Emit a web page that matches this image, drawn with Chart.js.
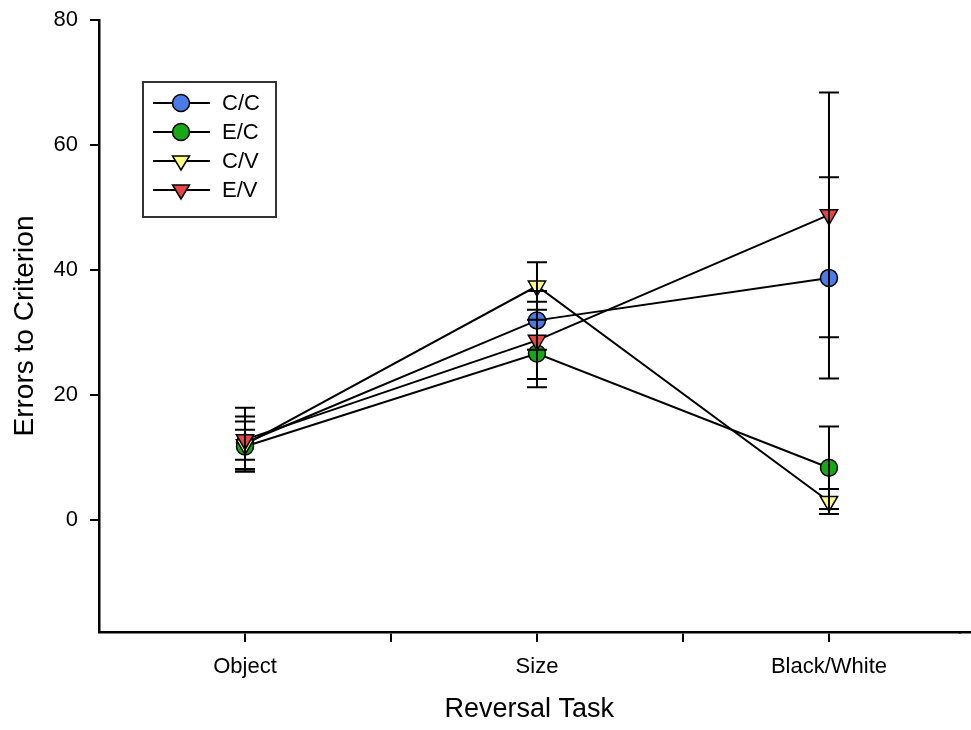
<!DOCTYPE html>
<html>
<head>
<meta charset="utf-8">
<script src="https://cdn.jsdelivr.net/npm/chart.js@4.4.1/dist/chart.umd.min.js"></script>
<style>
  body { margin: 0; background: #fff; }
  canvas { display: block; }
</style>
</head>
<body>
<canvas id="myChart" width="971" height="730"></canvas>
<script>
// reversal task data (mean +/- error)
let categories = ['Object', 'Size', 'Black/White']
let groups = ['C/C', 'E/C', 'C/V', 'E/V']

let ccMean = [12.3, 31.9, 38.7]
let ccErr = [4.2, 4.7, 16.1]
let ecMean = [11.7, 26.6, 8.3]
let ecErr = [4.0, 5.4, 6.6]
let cvMean = [12.0, 37.4, 2.9]
let cvErr = [2.4, 3.8, 2.0]
let evMean = [12.8, 28.7, 48.8]
let evErr = [5.1, 6.2, 19.6]

let yTicks = [0, 20, 40, 60, 80]

let means = [ccMean, ecMean, cvMean, evMean]
let errs = [ccErr, ecErr, cvErr, evErr]
let fills = ['#4a7be6', '#16a816', '#ffff80', '#e84646']
let shapes = ['circle', 'circle', 'triangle', 'triangle']

const FONT = '"Liberation Sans", Arial, sans-serif'

function toPoints(arr) {
  return arr.map((v, i) => ({ x: i, y: v }))
}

function marker(ctx, shape, x, y, fill) {
  ctx.save()
  ctx.fillStyle = fill
  ctx.strokeStyle = '#000'
  ctx.lineWidth = 1.5
  ctx.beginPath()
  if (shape == 'circle') {
    ctx.arc(x, y, 8.5, 0, Math.PI * 2)
  } else {
    // downward triangle
    ctx.moveTo(x - 8.5, y - 5)
    ctx.lineTo(x + 8.5, y - 5)
    ctx.lineTo(x, y + 9)
    ctx.closePath()
  }
  ctx.fill()
  ctx.stroke()
  ctx.restore()
}

const errorBars = {
  id: 'errorBars',
  afterDatasetsDraw(chart) {
    const ctx = chart.ctx
    const xs = chart.scales.x
    const ys = chart.scales.y
    ctx.save()
    ctx.strokeStyle = '#000'
    ctx.lineWidth = 2
    for (let d = 0; d < means.length; d++) {
      for (let i = 0; i < means[d].length; i++) {
        let px = xs.getPixelForValue(i)
        let top = ys.getPixelForValue(means[d][i] + errs[d][i])
        let bot = ys.getPixelForValue(means[d][i] - errs[d][i])
        ctx.beginPath()
        ctx.moveTo(px, top); ctx.lineTo(px, bot)
        ctx.moveTo(px - 10, top); ctx.lineTo(px + 10, top)
        ctx.moveTo(px - 10, bot); ctx.lineTo(px + 10, bot)
        ctx.stroke()
      }
    }
    ctx.restore()
  }
}

// x axis in the original runs on to the right edge of the picture
const axisTail = {
  id: 'axisTail',
  afterDraw(chart) {
    const ctx = chart.ctx
    const a = chart.chartArea
    let y = Math.round(a.bottom - 1.25) + 1.25
    ctx.save()
    ctx.strokeStyle = '#000'
    ctx.lineWidth = 2.5
    ctx.beginPath()
    ctx.moveTo(a.right - 1, y)
    ctx.lineTo(chart.width, y)
    ctx.stroke()
    ctx.restore()
  }
}

const boxLegend = {
  id: 'boxLegend',
  afterDraw(chart) {
    const ctx = chart.ctx
    ctx.save()
    ctx.strokeStyle = '#333'
    ctx.lineWidth = 2
    ctx.strokeRect(143, 82, 133, 135)
    let rows = [103, 132, 161, 190]
    ctx.font = '22px ' + FONT
    ctx.textBaseline = 'middle'
    for (let i = 0; i < groups.length; i++) {
      ctx.beginPath()
      ctx.strokeStyle = '#000'
      ctx.lineWidth = 2
      ctx.moveTo(153, rows[i]); ctx.lineTo(210, rows[i])
      ctx.stroke()
      marker(ctx, shapes[i], 181, rows[i], fills[i])
      ctx.fillStyle = '#000'
      ctx.fillText(groups[i], 222, rows[i] + 1)
    }
    ctx.restore()
  }
}

let datasets = groups.map((g, d) => ({
  label: g,
  data: toPoints(means[d]),
  order: groups.length - d,
  borderColor: '#000',
  borderWidth: 2,
  pointStyle: shapes[d],
  pointRotation: shapes[d] == 'triangle' ? 180 : 0,
  pointRadius: shapes[d] == 'triangle' ? 10 : 8.5,
  pointBackgroundColor: fills[d],
  pointBorderColor: '#000',
  pointBorderWidth: 1.5,
  tension: 0
}))

new Chart(document.getElementById('myChart'), {
  type: 'line',
  data: { datasets: datasets },
  options: {
    responsive: false,
    animation: false,
    layout: { padding: { top: 20, right: 0, left: 0, bottom: 0 } },
    plugins: {
      legend: { display: false },
      tooltip: { enabled: false }
    },
    scales: {
      x: {
        type: 'linear',
        min: -0.5,
        max: 2.447,
        afterBuildTicks: (s) => { s.ticks = [0, 0.5, 1, 1.5, 2].map(v => ({ value: v })) },
        afterFit: (s) => { s.height = 98; s.paddingLeft = 0; s.paddingRight = 0 },
        ticks: {
          autoSkip: false,
          maxRotation: 0,
          padding: 12,
          color: '#000',
          font: { family: FONT, size: 22 },
          callback: (v) => Number.isInteger(v) ? categories[v] : ''
        },
        grid: { drawOnChartArea: false, tickLength: 10, color: '#000', lineWidth: 2 },
        border: { color: '#000', width: 2.5 },
        title: {
          display: true,
          text: 'Reversal Task',
          color: '#000',
          font: { family: FONT, size: 27 },
          padding: { top: 0, bottom: 4 }
        }
      },
      y: {
        min: -18,
        max: 80,
        afterBuildTicks: (s) => { s.ticks = yTicks.map(v => ({ value: v })) },
        afterFit: (s) => { s.width = 99; s.paddingTop = 0; s.paddingBottom = 0 },
        ticks: {
          padding: 12,
          color: '#000',
          font: { family: FONT, size: 22 }
        },
        grid: { drawOnChartArea: false, tickLength: 9, color: '#000', lineWidth: 2 },
        border: { color: '#000', width: 2.5 },
        title: {
          display: true,
          text: 'Errors to Criterion',
          color: '#000',
          font: { family: FONT, size: 28 },
          padding: { top: 8, bottom: 0 }
        }
      }
    }
  },
  plugins: [errorBars, axisTail, boxLegend]
})
</script>
</body>
</html>
